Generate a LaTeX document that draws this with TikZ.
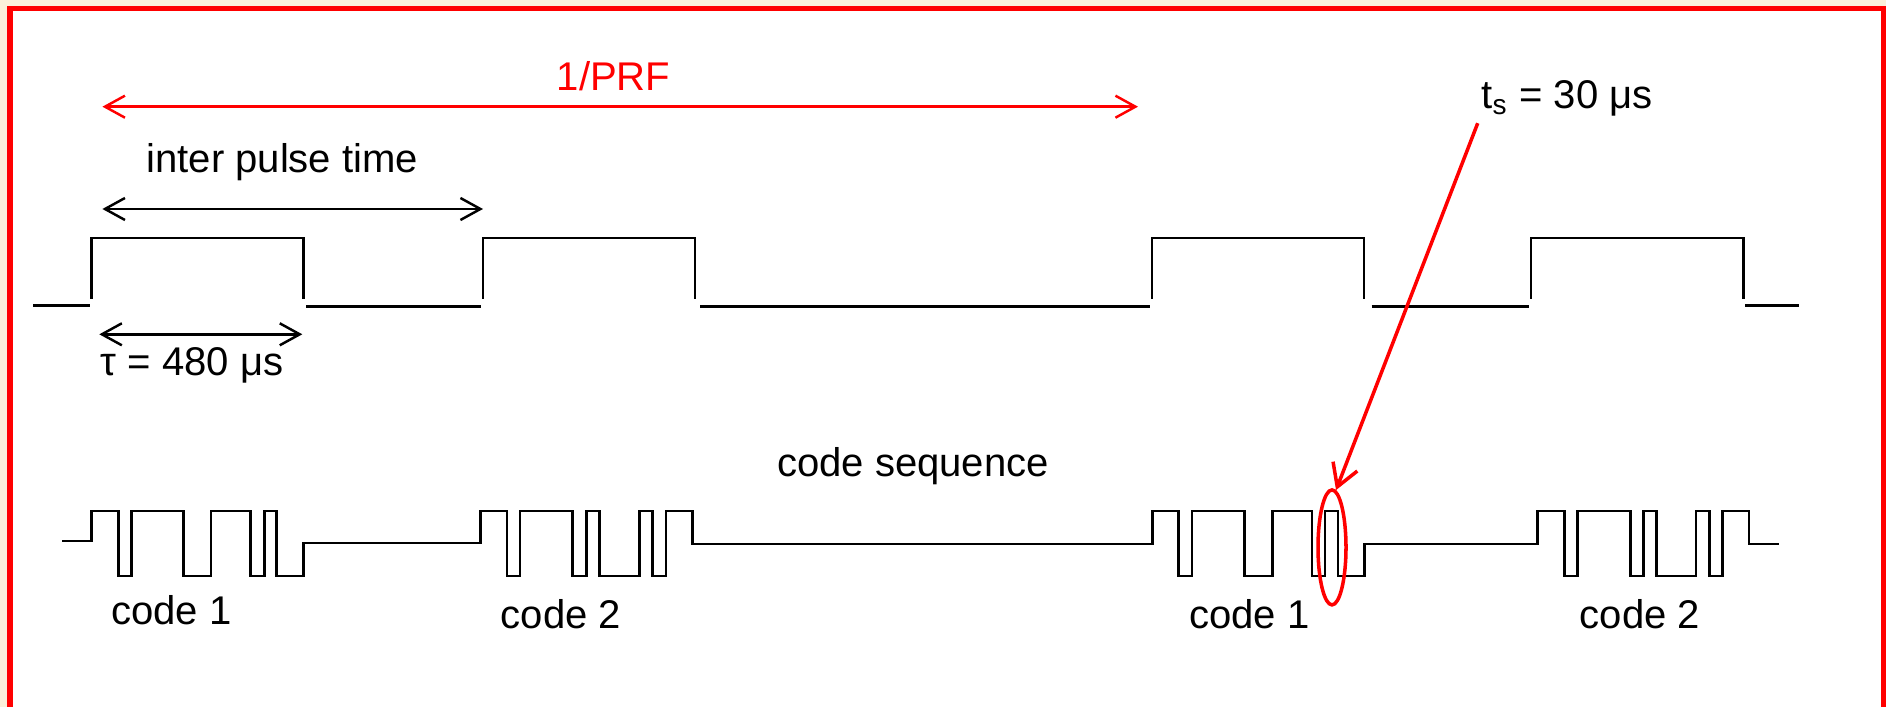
\documentclass[tikz,border=0pt]{standalone}
\usepackage{fontspec}
\setmainfont{Liberation Sans}
\usetikzlibrary{arrows.meta,shapes.geometric}
\definecolor{pagecream}{RGB}{251,240,218}
\definecolor{markred}{RGB}{255,0,0}

\begin{document}
\begin{tikzpicture}[
  x=0.1mm, y=-0.1mm,
  wave/.style={line width=0.8pt, draw=black},
  dimarrow/.style={
    {Straight Barb[length=2mm,width=2.2mm]}-{Straight Barb[length=2mm,width=2.2mm]},
    line width=0.7pt
  },
  pointer/.style={-{Straight Barb[length=2.2mm,width=2.6mm]}, line width=1pt, draw=markred},
  lbl/.style={font=\fontsize{11.4}{13}\selectfont, inner sep=0pt, anchor=base}
]
\useasboundingbox (0,0) rectangle (1886,707);
\clip (0,0) rectangle (1886,707);
\fill[pagecream] (0,0) rectangle (1886,707);
\fill[white] (9.8,8.4) rectangle (1883.5,720);
\draw[markred, line width=0.55mm] (9.8,8.4) rectangle (1883.5,720);

% pulse train
\draw[wave] (33,305.7) -- (90,305.7);
\draw[wave] (91.5,299) |- (303.6,238) -- (303.6,299);
\draw[wave] (306,306.7) -- (481,306.7);
\draw[wave] (483,299) |- (695,238) -- (695,299);
\draw[wave] (700,306.7) -- (1150,306.7);
\draw[wave] (1152,299) |- (1364,238) -- (1364,299);
\draw[wave] (1371.5,306.7) -- (1529,306.7);
\draw[wave] (1531,299) |- (1743.5,238) -- (1743.5,299);
\draw[wave] (1745,305.3) -- (1799,305.3);

% phase coded sequence
\draw[wave] (62,541)
  -| (91.3,511) -| (118.1,576) -| (131.5,511) -| (183.8,576) -| (211,511)
  -| (250.3,576) -| (264.1,511) -| (276.6,576) -| (303.4,543)
  -| (480.6,511) -| (507,576) -| (519.9,511) -| (572.6,576) -| (586.4,511)
  -| (599.8,576) -| (639.1,511) -| (652.5,576) -| (665.9,511) -| (692.2,544)
  -| (1152.1,511) -| (1178.5,576) -| (1191.9,511) -| (1244.6,576) -| (1272.2,511)
  -| (1312,576) -| (1324.9,511) -| (1337.9,576) -| (1364.6,544)
  -| (1537.4,511) -| (1564.2,576) -| (1577.6,511) -| (1630.3,576) -| (1643.2,511)
  -| (1656.6,576) -| (1695.9,511) -| (1709.3,576) -| (1722.7,511) -| (1749,544)
  -- (1778.5,544);

% dimension arrows
\coordinate (prfleft) at (102.4,106.7);
\coordinate (prfright) at (1138,106.7);
\coordinate (iptleft) at (102.4,209);
\coordinate (iptright) at (483,209);
\coordinate (tauleft) at (99.3,334.3);
\coordinate (tauright) at (302.3,334.3);
\draw[dimarrow, draw=markred] (prfleft) -- (prfright);
\draw[dimarrow] (iptleft) -- (iptright);
\draw[dimarrow] (tauleft) -- (tauright);

\node[lbl, text=markred] (prflabel) at (613.5,90.7) {1/PRF};
\node[lbl] (iptlabel) at (282.3,173) {inter pulse time};
\node[lbl] (taulabel) at (192.2,376) {τ = 480 μs};
\node[lbl, anchor=base west] (tslabel) at (1480.7,108.4) {t\textsubscript{s} = 30 μs};
\node[lbl] (seqlabel) at (913,477) {code sequence};

\node[lbl] (codeonea) at (171.5,624.3) {code 1};
\node[lbl] (codetwoa) at (561,629) {code 2};
\node[lbl] (codeoneb) at (1249.5,629) {code 1};
\node[lbl] (codetwob) at (1640,628.3) {code 2};

% marked chip
\node[draw=markred, line width=1pt, ellipse, inner sep=0pt,
  minimum width=2.8mm, minimum height=11.5mm] (chipring) at (1332,547.4) {};
\coordinate (tsfoot) at (1477.7,123.2);
\draw[pointer] (tsfoot) -- (chipring.86);
\end{tikzpicture}
\end{document}
